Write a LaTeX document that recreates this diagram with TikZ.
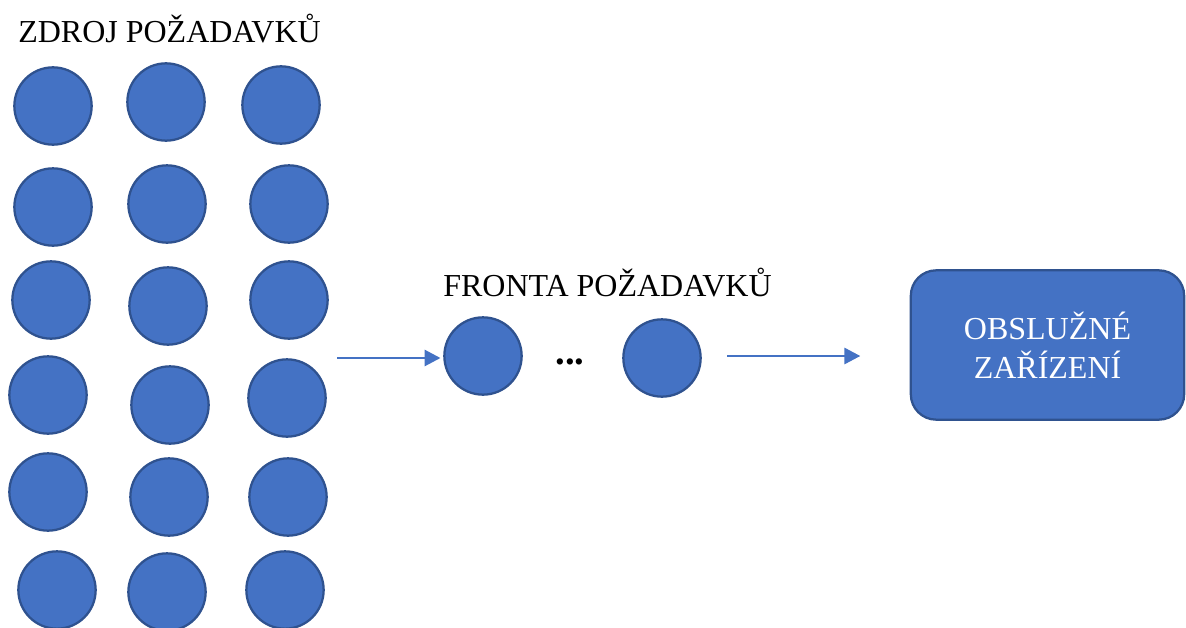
\documentclass[tikz,border=0pt]{standalone}
\usepackage{fontspec}
\setmainfont{Liberation Serif}
\usetikzlibrary{arrows.meta}
\definecolor{reqfill}{HTML}{4472C4}
\definecolor{reqline}{HTML}{2F528F}
\tikzset{
  req/.style={circle, fill=reqfill, draw=reqline, line width=1.7pt, minimum size=58pt, inner sep=0pt},
  flow/.style={draw=reqfill, line width=2.2pt, -{Triangle[length=12pt,width=12pt]}},
  label/.style={font=\fontsize{24}{28}\selectfont, inner sep=0pt}
}
\begin{document}
\begin{tikzpicture}[x=0.75pt, y=-0.75pt]
    \useasboundingbox (0,0) rectangle (1186,628);
    % Source of requests
    \node[label, anchor=base west] (srclbl) at (18,42) {ZDROJ POŽADAVKŮ};
    \node[req] (s11) at (53,106) {}; \node[req] (s12) at (166,102) {}; \node[req] (s13) at (281,105) {};
    \node[req] (s21) at (53,207) {}; \node[req] (s22) at (167,204) {}; \node[req] (s23) at (289,204) {};
    \node[req] (s31) at (51,300) {}; \node[req] (s32) at (168,306) {}; \node[req] (s33) at (289,300) {};
    \node[req] (s41) at (48,395) {}; \node[req] (s42) at (170,405) {}; \node[req] (s43) at (287,398) {};
    \node[req] (s51) at (48,492) {}; \node[req] (s52) at (169,497) {}; \node[req] (s53) at (288,497) {};
    \node[req] (s61) at (57,590) {}; \node[req] (s62) at (167,592) {}; \node[req] (s63) at (285,590) {};
    % Queue
    \node[label, anchor=base west] (quelbl) at (443,296) {FRONTA POŽADAVKŮ};
    \node[req] (q1) at (483,356) {};
    \node[font=\fontsize{29}{30}\selectfont\bfseries, anchor=base] (dots) at (570,364) {...};
    \node[req] (q2) at (662,358) {};
    % Server
    \node[draw=reqline, fill=reqfill, line width=1.7pt, rounded corners=19pt,
          minimum width=205pt, minimum height=112pt, text=white, align=center,
          font=\fontsize{24}{29}\selectfont] (srv) at (1047.5,345) {OBSLUŽNÉ\\ZAŘÍZENÍ};
    % Arrows
    \coordinate (in) at (337,358);
    \draw[flow, shorten >=2pt] (in) -- (q1.west |- in);
    \draw[flow, shorten <=19pt, shorten >=37pt] (q2.east |- 0,356) -- (srv.west |- 0,356);
\end{tikzpicture}
\end{document}
